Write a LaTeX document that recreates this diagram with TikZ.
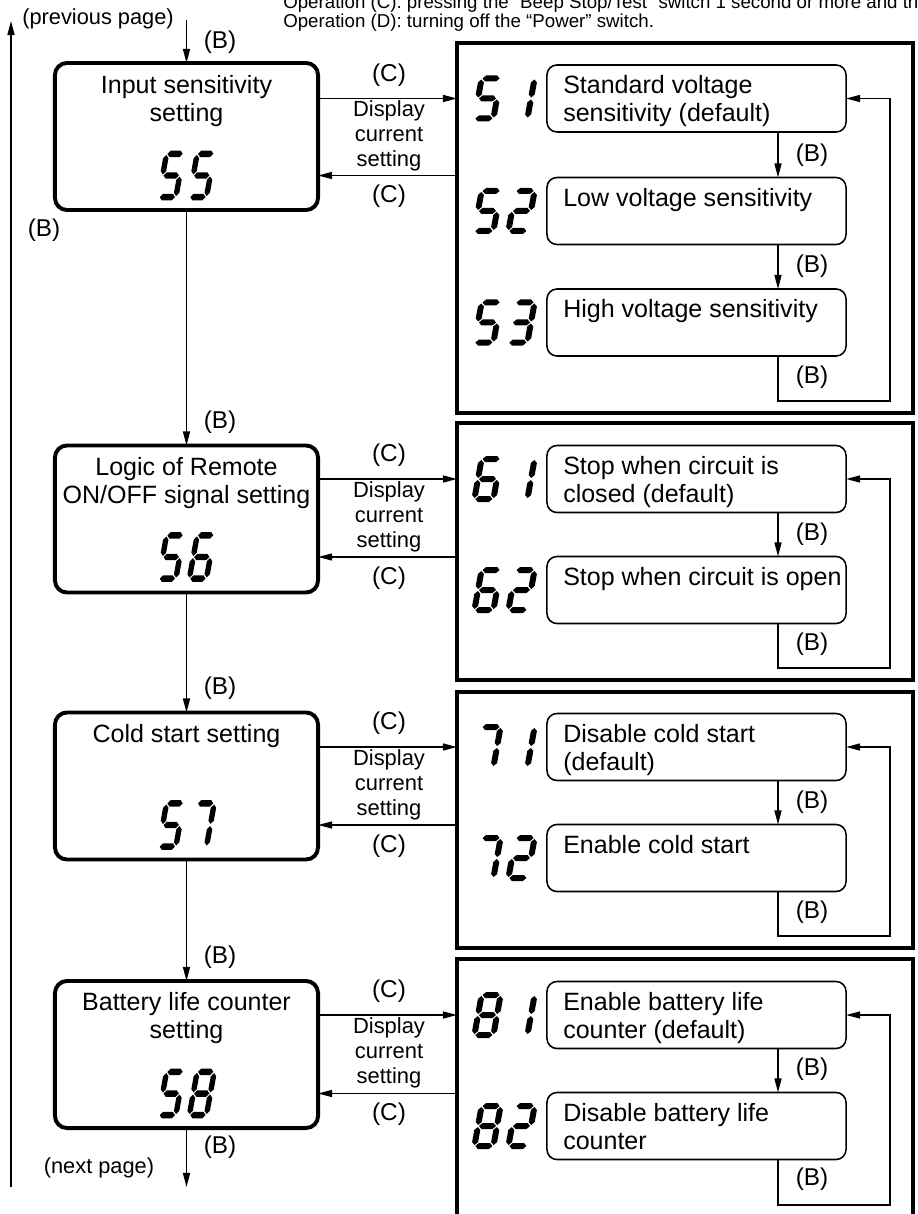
\documentclass[tikz,border=0pt]{standalone}
\usepackage{fontspec}
\setmainfont{Liberation Sans}
\usetikzlibrary{arrows.meta}

% seven-segment display, local units are the picture's (px)
\newcommand{\hseg}[2]{\fill (#1+1,#2) -- (#1+4,#2-3) -- (#1+15,#2-3) -- (#1+18,#2) -- (#1+15,#2+3) -- (#1+4,#2+3) -- cycle;}
\newcommand{\vseg}[3]{\fill (#1,#2+1) -- (#1+3,#2+4) -- (#1+3,#3-4) -- (#1,#3-1) -- (#1-3,#3-4) -- (#1-3,#2+4) -- cycle;}
\newcommand{\segA}[1]{\hseg{#1}{-20}}
\newcommand{\segB}[1]{\vseg{#1+19}{-20}{0}}
\newcommand{\segC}[1]{\vseg{#1+19}{0}{20}}
\newcommand{\segD}[1]{\hseg{#1}{20}}
\newcommand{\segE}[1]{\vseg{#1}{0}{20}}
\newcommand{\segF}[1]{\vseg{#1}{-20}{0}}
\newcommand{\segG}[1]{\hseg{#1}{0}}
\newcommand{\segpair}[4][]{%
  \begin{scope}[shift={#2}, xslant=0.18, #1]
    \foreach \sg in {#3} {\csname seg\sg\endcsname{-26.5}}
    \foreach \sg in {#4} {\csname seg\sg\endcsname{7.5}}
  \end{scope}}

\begin{document}
\begin{tikzpicture}[x=0.025cm, y=-0.025cm,
  mainbox/.style={rectangle, rounded corners=0.3cm, draw, line width=2.8pt,
                  minimum width=6.575cm, minimum height=3.675cm,
                  inner sep=0pt, outer sep=0pt},
  panel/.style={rectangle, draw, line width=2.5pt, minimum width=11.4cm,
                inner sep=0pt, outer sep=0pt},
  optbox/.style={rectangle, rounded corners=0.25cm, draw, line width=1.1pt,
                 minimum width=7.475cm, minimum height=1.675cm,
                 inner sep=0pt, outer sep=0pt},
  ttl/.style={anchor=north, align=center, inner sep=0pt,
              font=\fontsize{17.8pt}{19.9pt}\selectfont},
  opt/.style={anchor=north west, align=left, inner sep=0pt,
              font=\fontsize{17.8pt}{19.9pt}\selectfont},
  lbl/.style={inner sep=0pt, font=\fontsize{17.3pt}{19pt}\selectfont},
  disp/.style={align=center, inner sep=0pt,
               font=\fontsize{15.6pt}{17.8pt}\selectfont},
  pg/.style={inner sep=0pt, font=\fontsize{15.5pt}{17pt}\selectfont},
  hdr/.style={anchor=base west, inner sep=0pt,
              font=\fontsize{13.3pt}{15pt}\selectfont},
  arr/.style={-{Triangle[length=10pt,width=5pt]}, line width=1pt}
]
\useasboundingbox (0,0) rectangle (917,1214);
\clip (0,0) rectangle (917,1214);

% header
\node[hdr] (hdr-c) at (283,8.5) {Operation (C): pressing the “Beep Stop/Test” switch 1 second or more and th};
\node[hdr] (hdr-d) at (283,28) {Operation (D): turning off the “Power” switch.};

% left column
\node[pg] (prev) at (98,19) {(previous page)};
\coordinate (in-top) at (186.5,20);
\node[lbl] (b0) at (220,42.5) {(B)};
\coordinate (ret-bot) at (11,1187);
\coordinate (ret-top) at (11,21);
\node[lbl] (bret) at (44,230) {(B)};

\node[mainbox] (ins) at (186.5,136.5) {};
\node[ttl] (ins-t) at (186.5,75) {Input sensitivity\\setting};
\coordinate (ins-d) at (186.5,175.5);
\segpair[xscale=0.9, yscale=1.08]{(ins-d)}{A,F,G,C,D}{A,F,G,C,D}

\node[mainbox] (rem) at (186.5,519) {};
\node[ttl] (rem-t) at (186.5,457) {Logic of Remote\\ON/OFF signal setting};
\coordinate (rem-d) at (186.5,557);
\segpair[xscale=0.9, yscale=1.08]{(rem-d)}{A,F,G,C,D}{A,F,G,E,D,C}

\node[mainbox] (cold) at (186.5,786) {};
\node[ttl] (cold-t) at (186.5,724) {Cold start setting};
\coordinate (cold-d) at (186.5,825);
\segpair[xscale=0.9, yscale=1.08]{(cold-d)}{A,F,G,C,D}{A,B,C}

\node[mainbox] (bat) at (186.5,1054.5) {};
\node[ttl] (bat-t) at (186.5,992) {Battery life counter\\setting};
\coordinate (bat-d) at (186.5,1093.5);
\segpair[xscale=0.9, yscale=1.08]{(bat-d)}{A,F,G,C,D}{A,B,C,D,E,F,G}

\coordinate (out-bot) at (186.5,1187);
\node[lbl] (b1) at (220,422) {(B)};
\node[lbl] (b2) at (220,688) {(B)};
\node[lbl] (b3) at (220,957) {(B)};
\node[lbl] (b4) at (220,1147) {(B)};
\node[pg] (next) at (99,1167.5) {(next page)};

\draw[arr] (in-top) -- (ins.north);
\draw[arr] (ins.south) -- (rem.north);
\draw[arr] (rem.south) -- (cold.north);
\draw[arr] (cold.south) -- (bat.north);
\draw[arr] (bat.south) -- (out-bot);
\draw[arr] (ret-bot) -- (ret-top);

% right panels
\coordinate (dcol) at (504.5,0);
\coordinate (bcol) at (778,0);
\node[panel, minimum height=9.25cm] (p5) at (685,228) {};
\node[panel, minimum height=6.425cm] (p6) at (685,551.5) {};
\node[panel, minimum height=6.4cm] (p7) at (685,820) {};
\node[panel, minimum height=6.45cm] (p8) at (685,1088) {};

\node[optbox] (s51) at (696.5,98.5) {};
\node[opt] (s51-t) at ([shift={(16,10.5)}]s51.north west) {Standard voltage\\sensitivity (default)};
\segpair{(dcol |- s51)}{A,F,G,C,D}{B,C}
\node[optbox] (s52) at (696.5,211) {};
\node[opt] (s52-t) at ([shift={(16,10.5)}]s52.north west) {Low voltage sensitivity};
\segpair{(dcol |- s52)}{A,F,G,C,D}{A,B,G,E,D}
\node[optbox] (s53) at (696.5,322.5) {};
\node[opt] (s53-t) at ([shift={(16,10.5)}]s53.north west) {High voltage sensitivity};
\segpair{(dcol |- s53)}{A,F,G,C,D}{A,B,G,C,D}

\node[optbox] (s61) at (696.5,479) {};
\node[opt] (s61-t) at ([shift={(16,10.5)}]s61.north west) {Stop when circuit is\\closed (default)};
\segpair{(dcol |- s61)}{A,F,G,E,D,C}{B,C}
\node[optbox] (s62) at (696.5,590) {};
\node[opt] (s62-t) at ([shift={(16,10.5)}]s62.north west) {Stop when circuit is open};
\segpair{(dcol |- s62)}{A,F,G,E,D,C}{A,B,G,E,D}

\node[optbox] (s71) at (696.5,747) {};
\node[opt] (s71-t) at ([shift={(16,10.5)}]s71.north west) {Disable cold start\\(default)};
\segpair{(dcol |- s71)}{A,B,C}{B,C}
\node[optbox] (s72) at (696.5,858) {};
\node[opt] (s72-t) at ([shift={(16,10.5)}]s72.north west) {Enable cold start};
\segpair{(dcol |- s72)}{A,B,C}{A,B,G,E,D}

\node[optbox] (s81) at (696.5,1015) {};
\node[opt] (s81-t) at ([shift={(16,10.5)}]s81.north west) {Enable battery life\\counter (default)};
\segpair{(dcol |- s81)}{A,B,C,D,E,F,G}{B,C}
\node[optbox] (s82) at (696.5,1126) {};
\node[opt] (s82-t) at ([shift={(16,10.5)}]s82.north west) {Disable battery life\\counter};
\segpair{(dcol |- s82)}{A,B,C,D,E,F,G}{A,B,G,E,D}

% (C) links between box and panel
\draw[arr] (ins.east |- s51) -- (p5.west |- s51);
\draw[arr] (p5.west |- ins-d) -- (ins.east |- ins-d);
\node[lbl] (c51) at (389,75) {(C)};
\node[lbl] (c52) at (389,196.5) {(C)};
\node[disp] (d5) at (389,135.5) {Display\\current\\setting};

\draw[arr] (rem.east |- s61) -- (p6.west |- s61);
\draw[arr] (p6.west |- rem-d) -- (rem.east |- rem-d);
\node[lbl] (c61) at (389,455.5) {(C)};
\node[lbl] (c62) at (389,578) {(C)};
\node[disp] (d6) at (389,516.5) {Display\\current\\setting};

\draw[arr] (cold.east |- s71) -- (p7.west |- s71);
\draw[arr] (p7.west |- cold-d) -- (cold.east |- cold-d);
\node[lbl] (c71) at (389,723.5) {(C)};
\node[lbl] (c72) at (389,846) {(C)};
\node[disp] (d7) at (389,784.5) {Display\\current\\setting};

\draw[arr] (bat.east |- s81) -- (p8.west |- s81);
\draw[arr] (p8.west |- bat-d) -- (bat.east |- bat-d);
\node[lbl] (c81) at (389,991.5) {(C)};
\node[lbl] (c82) at (389,1114.5) {(C)};
\node[disp] (d8) at (389,1052.5) {Display\\current\\setting};

% (B) steps inside the panels
\coordinate (l5) at (890,401);
\coordinate (l6) at (890,668);
\coordinate (l7) at (890,936);
\coordinate (l8) at (890,1205);
\draw[arr] (s51.south -| bcol) -- (s52.north -| bcol);
\draw[arr] (s52.south -| bcol) -- (s53.north -| bcol);
\draw[arr] (s53.south -| bcol) |- (l5) |- (s51.east);
\draw[arr] (s61.south -| bcol) -- (s62.north -| bcol);
\draw[arr] (s62.south -| bcol) |- (l6) |- (s61.east);
\draw[arr] (s71.south -| bcol) -- (s72.north -| bcol);
\draw[arr] (s72.south -| bcol) |- (l7) |- (s71.east);
\draw[arr] (s81.south -| bcol) -- (s82.north -| bcol);
\draw[arr] (s82.south -| bcol) |- (l8) |- (s81.east);
\node[lbl] (b51) at (812,155) {(B)};
\node[lbl] (b52) at (812,266) {(B)};
\node[lbl] (b53) at (812,377) {(B)};
\node[lbl] (b61) at (812,534) {(B)};
\node[lbl] (b62) at (812,644) {(B)};
\node[lbl] (b71) at (812,802) {(B)};
\node[lbl] (b72) at (812,912) {(B)};
\node[lbl] (b81) at (812,1069) {(B)};
\node[lbl] (b82) at (812,1179) {(B)};
\end{tikzpicture}
\end{document}
